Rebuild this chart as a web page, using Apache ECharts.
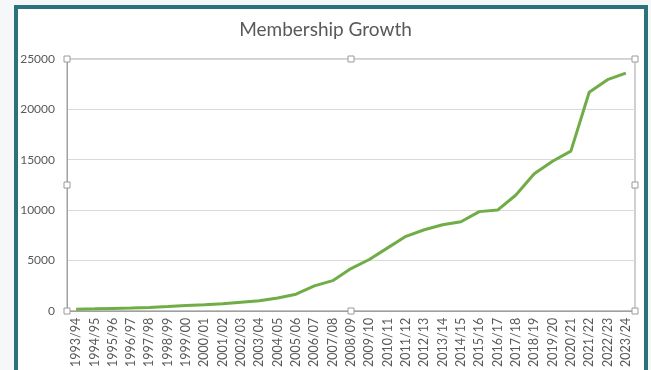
<!DOCTYPE html>
<html>
<head>
<meta charset="utf-8">
<script src="https://cdn.jsdelivr.net/npm/echarts@6/dist/echarts.min.js"></script>
<style>
  html, body { margin: 0; padding: 0; background: #f6f7f8; }
  #frame {
    position: absolute; left: 14px; top: 5px;
    width: 626px; height: 370px;
    border: 4px solid #2b737c; border-bottom: none;
    background: #ffffff;
  }
  #main { position: absolute; left: 0; top: 0; width: 651px; height: 370px; }
</style>
</head>
<body>
<div id="frame"></div>
<div id="main"></div>
<script>
// seasons on the x axis
var seasons = [
  '1993/94', '1994/95', '1995/96', '1996/97', '1997/98', '1998/99', '1999/00',
  '2000/01', '2001/02', '2002/03', '2003/04', '2004/05', '2005/06', '2006/07',
  '2007/08', '2008/09', '2009/10', '2010/11', '2011/12', '2012/13', '2013/14',
  '2014/15', '2015/16', '2016/17', '2017/18', '2018/19', '2019/20', '2020/21',
  '2021/22', '2022/23', '2023/24'
];
// members per season
var members = [
  170, 200, 240, 280, 340, 420, 540,
  600, 700, 850, 1000, 1280, 1650, 2480,
  3000, 4200, 5100, 6250, 7400, 8050, 8550,
  8850, 9850, 10000, 11500, 13600, 14850, 15850,
  21700, 22950, 23600
];

var chart = echarts.init(document.getElementById('main'), null, { renderer: 'canvas' });

var gridLeft = 67, gridTop = 59, gridRight = 635, gridBottom = 311;
var midX = (gridLeft + gridRight) / 2, midY = (gridTop + gridBottom) / 2;
// little selection handles round the plot area
var handlePts = [
  [gridLeft, gridTop], [midX, gridTop], [gridRight, gridTop],
  [gridLeft, midY], [gridRight, midY],
  [gridLeft, gridBottom], [midX, gridBottom], [gridRight, gridBottom]
];
var handles = handlePts.map(function (p) {
  return {
    type: 'rect',
    shape: { x: p[0] - 3, y: p[1] - 3, width: 6, height: 6 },
    style: { fill: '#ffffff', stroke: '#9a9a9a', lineWidth: 1 },
    z: 100
  };
});

var option = {
  backgroundColor: 'transparent',
  textStyle: { fontFamily: 'Lato, "Open Sans", sans-serif' },
  title: {
    text: 'Membership Growth',
    left: 'center',
    top: 15,
    textStyle: { fontSize: 19, fontWeight: 'normal', color: '#595959', fontFamily: 'Lato' }
  },
  grid: {
    left: gridLeft,
    right: 651 - gridRight,
    top: gridTop,
    bottom: 370 - gridBottom,
    show: true,
    borderColor: '#a0a0a0',
    borderWidth: 1
  },
  xAxis: {
    type: 'category',
    data: seasons,
    boundaryGap: true,
    axisLine: { lineStyle: { color: '#a0a0a0', width: 1 } },
    axisTick: { show: false },
    axisLabel: {
      interval: 0,
      rotate: 90,
      margin: 7,
      fontSize: 12.5,
      color: '#595959',
      fontFamily: 'Lato'
    }
  },
  yAxis: {
    type: 'value',
    min: 0,
    max: 25000,
    interval: 5000,
    axisLine: { show: true, lineStyle: { color: '#a0a0a0', width: 1 } },
    axisTick: { show: false },
    axisLabel: {
      margin: 12,
      fontSize: 12,
      color: '#595959',
      fontFamily: 'Lato',
      formatter: function (v) { return String(v); }
    },
    splitLine: { lineStyle: { color: '#d9d9d9', width: 1 } }
  },
  series: [{
    name: 'Members',
    type: 'line',
    data: members,
    symbol: 'none',
    smooth: false,
    lineStyle: { color: '#70ad47', width: 3 },
    itemStyle: { color: '#70ad47' }
  }],
  graphic: handles
};

chart.setOption(option);
</script>
</body>
</html>
